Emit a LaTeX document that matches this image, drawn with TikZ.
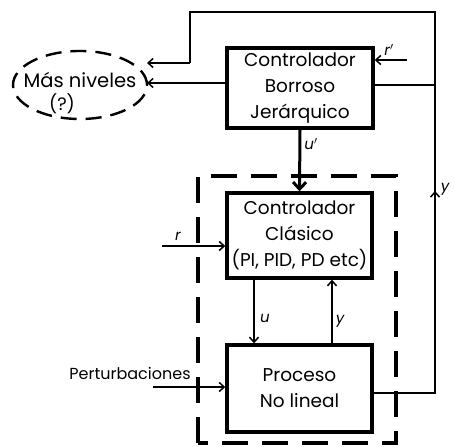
\documentclass[tikz,border=0pt]{standalone}
\usepackage{fontspec}
\setmainfont{Poppins}
\usetikzlibrary{arrows.meta,shapes.geometric}
\begin{document}
\begin{tikzpicture}[x=1pt,y=-1pt,
  blk/.style={draw,line width=3.4pt,minimum width=#1,inner sep=0pt,align=center,font=\fontsize{18.5}{26}\selectfont},
  conn/.style={line width=1.5pt},
  arr/.style={conn,-{Straight Barb[length=5pt,width=9pt,line width=1.5pt]}},
  lbl/.style={font=\fontsize{15}{15}\selectfont\itshape\rmfamily,inner sep=0pt},
  txt/.style={font=\fontsize{19.5}{19.5}\selectfont,inner sep=0pt}]
\useasboundingbox (0,0) rectangle (454,446);
% blocks
\node[blk=146pt,minimum height=80pt] (hb) at (300,88) {Controlador\\Borroso\\Jerárquico};
\node[blk=145pt,minimum height=85pt] (cc) at (299.5,235.5) {Controlador\\Clásico\\(PI, PID, PD etc)};
\node[blk=145pt,minimum height=87pt] (pr) at (299.5,388.5) {Proceso\\No lineal};
% dashed frame
\draw[line width=3.2pt,dash pattern=on 26pt off 14pt] (198,443) -- (198,176) -- (396,176) -- (396,443) -- cycle;
% ellipse
\node[ellipse,draw,line width=2.4pt,dash pattern=on 16pt off 9pt,minimum width=134pt,minimum height=68pt] (ell) at (80,85) {};
\node[txt] (m1) at (80,80) {Más niveles};
\node[txt,font=\fontsize{18}{18}\selectfont] (m2) at (62,104) {(?)};
% coordinates
\coordinate (R) at (435,393);
\coordinate (RT) at (435,12);
\coordinate (LT) at (190,12);
\coordinate (LA) at (190,63);
\coordinate (E1) at (147,63);
\coordinate (E2) at (147,83);
\coordinate (H2) at (227,83);
\coordinate (HR) at (373,85);
\coordinate (RR) at (435,85);
\coordinate (rp) at (407,60);
\coordinate (rin) at (162,246);
\coordinate (pin) at (153,387);
% connectors
\draw[conn] (pr.east |- R) -- (R) -- (RT) -- (LT) -- (LA);
\draw[arr] (LA) -- (E1);
\draw[arr] (H2) -- (E2);
\draw[conn] (HR) -- (RR);
\draw[arr] (rp) -- (hb.east |- rp);
\node[lbl] (lrp) at (389,50) {r$'$};
\draw[line width=3pt,-{Straight Barb[length=7pt,width=13pt,line width=3pt]}] (hb.south) -- (cc.north);
\node[lbl] (lup) at (311,144) {u$'$};
\draw[arr] (rin) -- (cc.west |- rin);
\node[lbl] (lr) at (178,236) {r};
\draw[arr] (254,278) coordinate (us) -- (us |- pr.north);
\node[lbl] (lu) at (265,318) {u};
\draw[arr] (332,345) coordinate (ys) -- (ys |- cc.south);
\node[lbl] (ly) at (340,321) {y};
\node[txt,font=\fontsize{16}{16}\selectfont] (pert) at (130,373) {Perturbaciones};
\draw[arr] (pin) -- (pr.west |- pin);
\draw[arr] (435,206) coordinate (ya) -- (435,191);
\node[lbl] (lyr) at (445,189) {y};
\end{tikzpicture}
\end{document}
